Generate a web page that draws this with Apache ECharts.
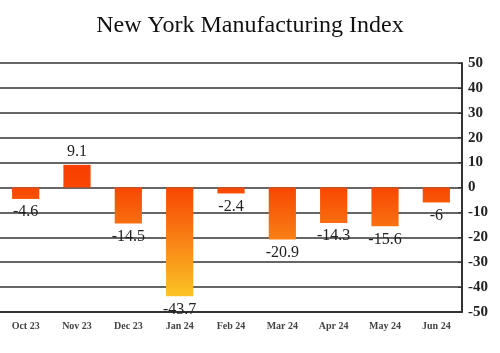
<!DOCTYPE html>
<html>
<head>
<meta charset="utf-8">
<script src="https://cdn.jsdelivr.net/npm/echarts@6/dist/echarts.min.js"></script>
<style>
  html, body { margin: 0; padding: 0; background: #fff; }
  #main { width: 500px; height: 353px; }
</style>
</head>
<body>
<div id="main"></div>
<script>
const months = ['Oct 23', 'Nov 23', 'Dec 23', 'Jan 24', 'Feb 24', 'Mar 24', 'Apr 24', 'May 24', 'Jun 24']
const index = [-4.6, 9.1, -14.5, -43.7, -2.4, -20.9, -14.3, -15.6, -6]
const yTicks = { min: -50, max: 50, step: 10 }

const chart = echarts.init(document.getElementById('main'))

// colour follows the pixel height, red at zero fading to yellow lower down
const barFill = {
  type: 'linear',
  global: true,
  x: 0, y: 150, x2: 0, y2: 300,
  colorStops: [
    { offset: 0, color: '#f83c00' },
    { offset: 0.24, color: '#f84500' },
    { offset: 0.5, color: '#f87010' },
    { offset: 1, color: '#fbc826' },
  ],
}

const option = {
  animation: false,
  title: {
    text: 'New York Manufacturing Index',
    left: 'center',
    top: 9,
    textStyle: { fontFamily: 'Liberation Serif', fontSize: 24, fontWeight: 'normal', color: '#111' },
  },
  grid: { left: 0, right: 38, top: 63, bottom: 41 },
  xAxis: {
    type: 'category',
    data: months,
    axisLine: { onZero: false, lineStyle: { color: '#333', width: 2 } },
    axisTick: { show: false },
    axisLabel: {
      fontFamily: 'Liberation Serif', fontSize: 10, fontWeight: 'bold', color: '#444', margin: 9,
    },
  },
  yAxis: {
    type: 'value',
    position: 'right',
    min: yTicks.min,
    max: yTicks.max,
    interval: yTicks.step,
    axisLine: { show: true, lineStyle: { color: '#333', width: 2 } },
    axisTick: { show: true, inside: true, length: 4, lineStyle: { color: '#333' } },
    splitLine: { lineStyle: { color: '#666', width: 2 } },
    axisLabel: {
      fontFamily: 'Liberation Serif', fontSize: 15, fontWeight: 'bold', color: '#222', margin: 6,
    },
  },
  series: [
    {
      type: 'bar',
      barWidth: '53%',
      itemStyle: { color: barFill },
      label: {
        show: true,
        fontFamily: 'Liberation Serif',
        fontSize: 16,
        color: '#222',
        distance: 5,
      },
      // negative bars get their label underneath
      data: index.map(v => ({
        value: v,
        label: { position: v < 0 ? 'bottom' : 'top' },
      })),
    },
  ],
}

chart.setOption(option)
</script>
</body>
</html>
